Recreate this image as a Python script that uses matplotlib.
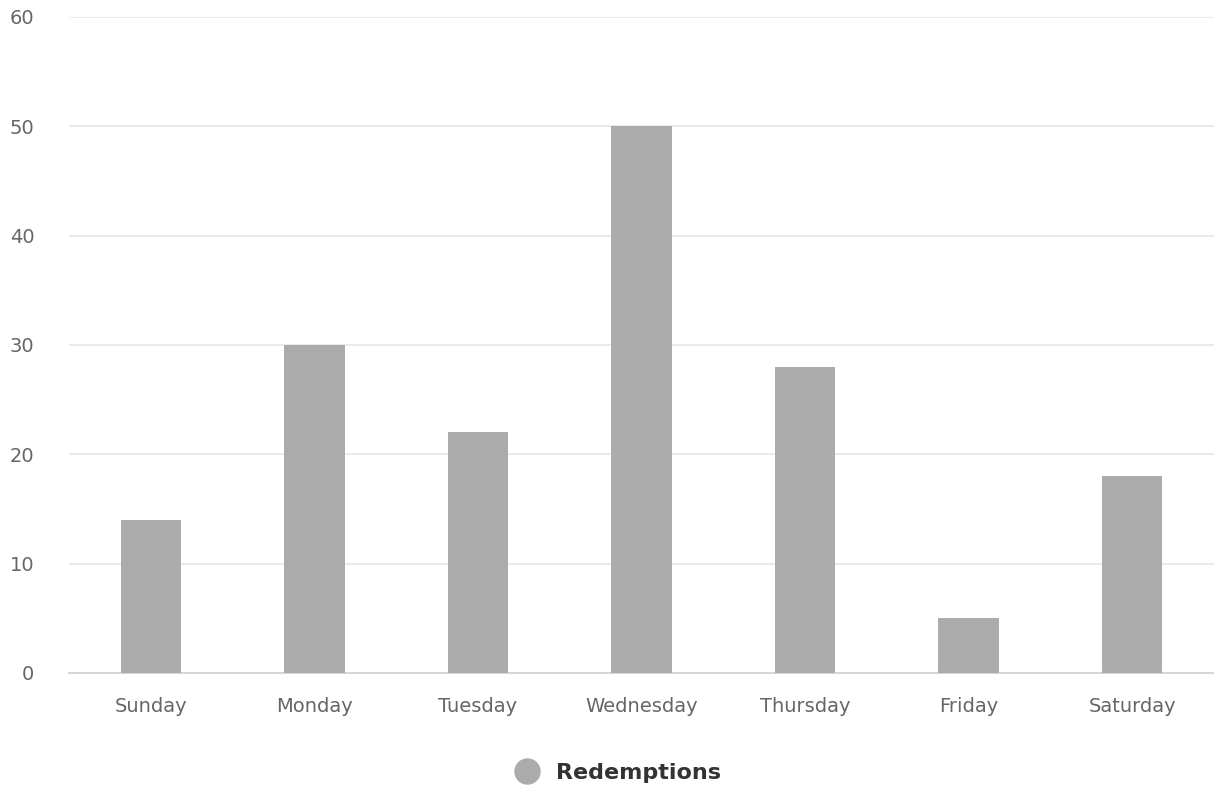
import matplotlib
matplotlib.use("Agg")
from matplotlib import pyplot as plt
from matplotlib.lines import Line2D

days = ["Sunday", "Monday", "Tuesday", "Wednesday", "Thursday", "Friday", "Saturday"]
redemptions = [14, 30, 22, 50, 28, 5, 18]
y_ticks = [0, 10, 20, 30, 40, 50, 60]

plt.rcParams['font.family'] = ['DejaVu Sans']

W, H = 1214, 790
fig = plt.figure(figsize=(W / 100, H / 100), dpi=100)
ax = fig.add_axes([69 / W, (H - 673) / H, 1 - 69 / W, (673 - 17) / H])

x = range(len(days))
ax.bar(x, redemptions, width=0.37, color="#ababab", zorder=3)

ax.set_xlim(-0.5, len(days) - 0.5)
ax.set_ylim(0, 60)
ax.set_yticks(y_ticks)
ax.set_xticks(list(x))
ax.set_xticklabels(days)

ax.grid(axis="y", color="#e6e6e6", linewidth=1.2, zorder=0)
for side in ("top", "right", "left"):
    ax.spines[side].set_visible(False)
ax.spines["bottom"].set_color("#d6d6d6")
ax.spines["bottom"].set_linewidth(1.5)

ax.tick_params(axis="both", length=0, labelsize=14, labelcolor="#666666")
ax.tick_params(axis="y", pad=25)
ax.tick_params(axis="x", pad=17)

handle = Line2D([], [], marker="o", linestyle="none", markersize=18,
                markerfacecolor="#ababab", markeredgecolor="#ababab")
fig.legend([handle], ["Redemptions"], loc="center", bbox_to_anchor=(613 / W, 1 - 773 / H),
           frameon=False, prop={"weight": "bold", "size": 16}, labelcolor="#333333",
           handletextpad=0.3)

fig.savefig("out.png", dpi=100)
